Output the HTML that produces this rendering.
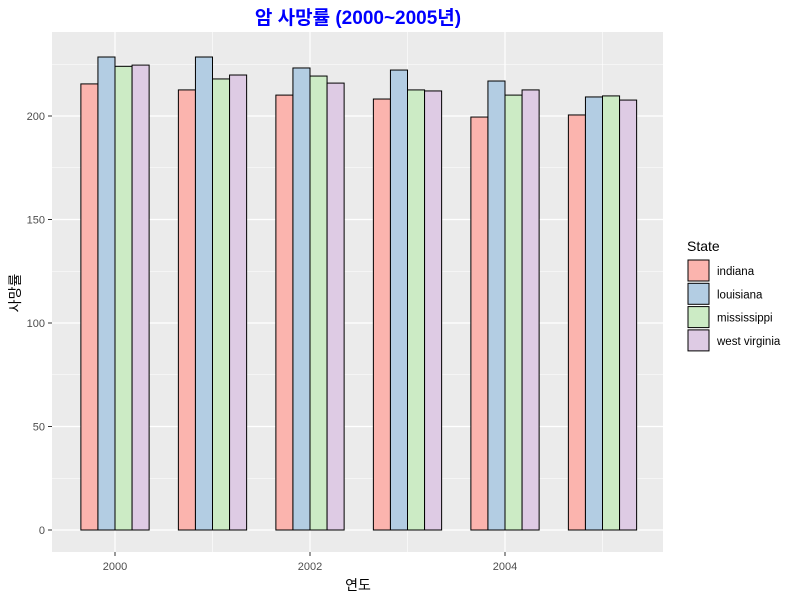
<!DOCTYPE html>
<html><head><meta charset="utf-8"><style>
body{margin:0;background:#fff;font-family:"Liberation Sans","Noto Sans CJK KR",sans-serif}
</style></head><body>
<svg width="800" height="600" xmlns="http://www.w3.org/2000/svg" font-family="Liberation Sans, Noto Sans CJK KR, sans-serif">
<text x="358" y="24" text-anchor="middle" font-size="19" font-weight="bold" fill="#0000ff">암 사망률 (2000~2005년)</text>
<rect x="52" y="32" width="611" height="520" fill="#ebebeb"/>
<g id="grid"></g><g id="bars"></g><g id="axes"></g>
<text x="358" y="590" text-anchor="middle" font-size="14" fill="#000">연도</text>
<text transform="translate(20,293) rotate(-90)" text-anchor="middle" font-size="14" fill="#000">사망률</text>
<g id="legend">
<text x="687" y="251" font-size="14" fill="#000">State</text>
</g>
</svg>
<script>
const years=[2000,2001,2002,2003,2004,2005];
const states=["indiana","louisiana","mississippi","west virginia"];
const indiana=[215.5,212.6,210.1,208.2,199.5,200.5];
const louisiana=[228.5,228.5,223.2,222.2,216.9,209.2];
const mississippi=[224,217.9,219.3,212.6,210.1,209.7];
const westVirginia=[224.6,219.8,215.9,212.1,212.6,207.7];
const yTicks=[0,50,100,150,200];
const xTicks=[2000,2002,2004];
const series=[indiana,louisiana,mississippi,westVirginia];
const colors=["#FBB4AE","#B3CDE3","#CCEBC5","#DECBE4"];
const NS="http://www.w3.org/2000/svg";
const X=y=>115+(y-2000)*97.5;
const Y=v=>530-v*2.07;
function mk(tag,attrs,parent,txt){const e=document.createElementNS(NS,tag);for(const k in attrs)e.setAttribute(k,attrs[k]);if(txt!==undefined)e.textContent=txt;parent.appendChild(e);return e;}
const grid=document.getElementById('grid'),bars=document.getElementById('bars'),axes=document.getElementById('axes'),leg=document.getElementById('legend');
for(let v=25;v<=225;v+=50){const l=mk('line',{x1:52,x2:663,y1:Y(v),y2:Y(v),stroke:'#fff','stroke-width':0.6},grid);}
yTicks.forEach(v=>{const l=mk('line',{x1:52,x2:663,y1:Y(v),y2:Y(v),stroke:'#fff','stroke-width':1.2},grid);
const t=mk('text',{x:45,y:Y(v)+4,'text-anchor':'end','font-size':11,fill:'#4d4d4d'},axes,v);
mk('line',{x1:48,x2:52,y1:Y(v),y2:Y(v),stroke:'#333'},axes);});
[2001,2003,2005].forEach(y=>{const l=mk('line',{x1:X(y),x2:X(y),y1:32,y2:552,stroke:'#fff','stroke-width':0.6},grid);});
xTicks.forEach(y=>{const l=mk('line',{x1:X(y),x2:X(y),y1:32,y2:552,stroke:'#fff','stroke-width':1.2},grid);
mk('line',{x1:X(y),x2:X(y),y1:552,y2:556,stroke:'#333'},axes);
const t=mk('text',{x:X(y),y:570,'text-anchor':'middle','font-size':11,fill:'#4d4d4d'},axes,y);});
const bw=97.5*0.7/4;
years.forEach((yr,i)=>{series.forEach((s,j)=>{const x0=X(yr)-bw*2+j*bw;const r=mk('rect',{x:x0,y:Y(s[i]),width:bw,height:Y(0)-Y(s[i]),fill:colors[j],stroke:'#000','stroke-width':1},bars);
});});
states.forEach((s,j)=>{const y0=260+j*23.3;const r=mk('rect',{x:688,y:y0,width:21,height:21,fill:colors[j],stroke:'#000'},leg);
const t=mk('text',{x:717,y:y0+15,'font-size':11.5,fill:'#000'},leg,s);});
</script>
</body></html>
